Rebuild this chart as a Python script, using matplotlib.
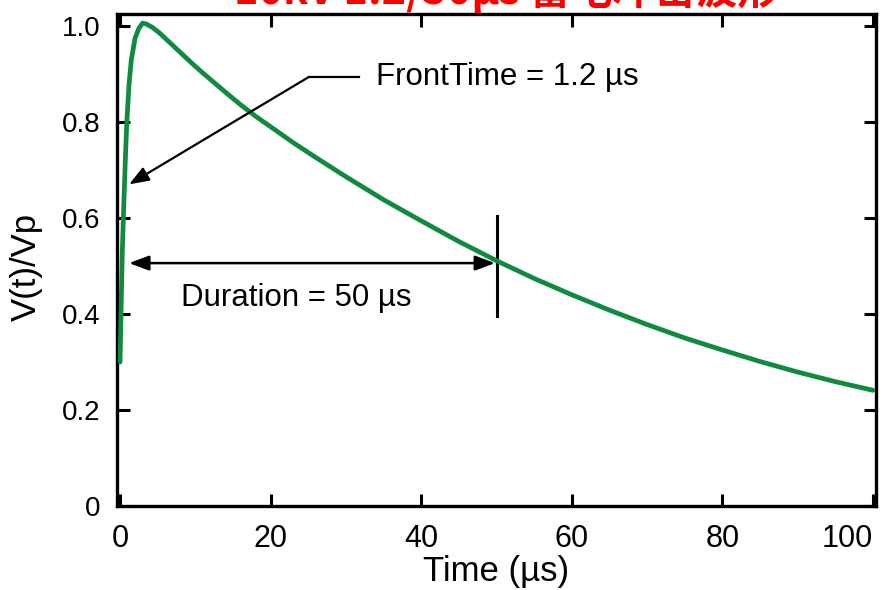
import matplotlib
matplotlib.use("Agg")
import matplotlib.pyplot as plt

# 1.2/50 us lightning impulse, normalised to peak voltage
time_us = [0, 0.15, 0.3, 0.5, 0.7, 0.9, 1.2, 1.5, 2.0, 2.5, 3.0, 3.5, 4.3,
           5.2, 6.5, 8, 9.5, 11, 12.5, 14, 16, 18, 20, 23, 26, 30, 35, 40, 45, 50,
           55, 60, 65, 70, 75, 80, 85, 90, 95, 100]
v_norm = [0.30, 0.42, 0.53, 0.63, 0.72, 0.80, 0.88, 0.93, 0.975, 0.995, 1.006, 1.004, 0.997,
          0.986, 0.967, 0.945, 0.923, 0.902, 0.882, 0.862, 0.836, 0.812, 0.79, 0.757, 0.726, 0.686, 0.638, 0.594, 0.551, 0.511,
          0.474, 0.44, 0.408, 0.378, 0.35, 0.325, 0.301, 0.279, 0.259, 0.241]

front_time = 1.2
duration = 50
x_ticks = [0, 20, 40, 60, 80, 100]
y_ticks = [0, 0.2, 0.4, 0.6, 0.8, 1.0]
y_tick_labels = ["0", "0.2", "0.4", "0.6", "0.8", "1.0"]

plt.rcParams["font.family"] = ["Liberation Sans", "DejaVu Sans"]

fig = plt.figure(figsize=(8.88, 5.90), dpi=100)
ax = fig.add_axes([0.1318, 0.1424, 0.8547, 0.8339])

ax.plot(time_us, v_norm, color="#0f8a3e", lw=3.4, solid_capstyle="round",
        solid_joinstyle="round", zorder=3)

# front time leader
ax.plot([31.7, 25.1], [0.894, 0.894], color="black", lw=1.6)
ax.annotate("", xy=(front_time, 0.67), xytext=(25.1, 0.894),
            arrowprops=dict(arrowstyle="-|>,head_length=1.2,head_width=0.45",
                            color="black", lw=1.6, shrinkA=0, shrinkB=0))
ax.text(34.0, 0.894, f"FrontTime = {front_time} µs", fontsize=22.5, va="center", ha="left")

# duration marker
ax.annotate("", xy=(1.2, 0.506), xytext=(duration - 0.2, 0.506),
            arrowprops=dict(arrowstyle="<|-|>,head_length=1.2,head_width=0.45",
                            color="black", lw=1.8, shrinkA=0, shrinkB=0))
ax.plot([duration, duration], [0.396, 0.604], color="black", lw=2.2)
ax.text(23.4, 0.433, f"Duration = {duration} µs", fontsize=22.5, va="center", ha="center")

ax.set_xlim(-0.4, 100.4)
ax.set_ylim(0, 1.025)
ax.set_xticks(x_ticks)
ax.set_yticks(y_ticks)
ax.set_yticklabels(y_tick_labels)
ax.tick_params(direction="in", length=9, width=2.2, top=True, right=True)
ax.tick_params(axis="y", labelsize=20, pad=12)
ax.tick_params(axis="x", labelsize=22, pad=13)
ax.get_xticklabels()[-1].set_horizontalalignment("right")
for sp in ax.spines.values():
    sp.set_linewidth(2.4)

ax.set_xlabel("Time (µs)", fontsize=25, labelpad=1)
ax.set_ylabel("V(t)/Vp", fontsize=25)
ax.yaxis.set_label_coords(-0.098, 0.486)

# banner title, partly above the frame
fig.text(0.57, 0.978, "10kV 1.2/50µs 雷电冲击波形", color="red", fontsize=30,
         fontweight="bold", style="italic", ha="center", va="bottom",
         family=["Noto Sans CJK SC", "DejaVu Sans"])

fig.savefig("out.png", dpi=100)
